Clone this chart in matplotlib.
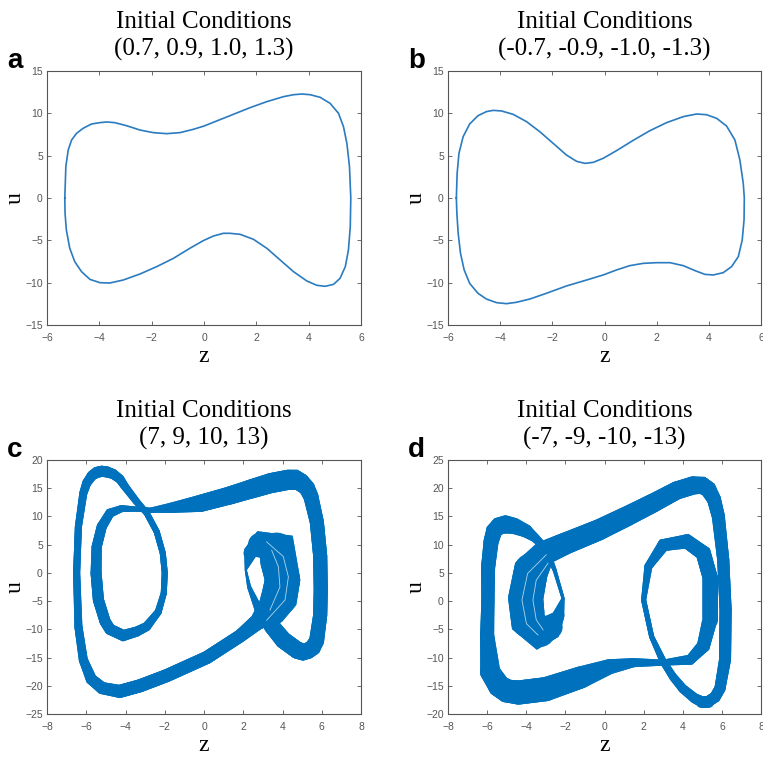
import matplotlib
matplotlib.use("Agg")
import matplotlib.pyplot as plt
import numpy as np
from matplotlib.collections import PolyCollection, LineCollection

plt.rcParams["font.family"] = ["Liberation Sans", "DejaVu Sans"]

# ---- panel a: periodic orbit, ICs (0.7, 0.9, 1.0, 1.3)
a_z = [-5.32, -5.28, -5.19, -5.06, -4.87, -4.62, -4.30, -3.98, -3.72, -3.41, -2.96, -2.45,
       -1.94, -1.43, -0.92, -0.41, 0.0, 0.48, 1.12, 1.76, 2.40, 3.04, 3.42, 3.74, 4.06, 4.44,
       4.82, 5.14, 5.33, 5.46, 5.56, 5.61, 5.59, 5.52, 5.40, 5.20, 4.95, 4.63, 4.31, 3.93,
       3.42, 2.91, 2.40, 1.89, 1.38, 0.99, 0.74, 0.36, -0.03, -0.54, -1.17, -1.81, -2.45,
       -3.09, -3.60, -3.98, -4.36, -4.68, -4.94, -5.13, -5.26, -5.31]
a_u = [0.0, 3.70, 5.67, 6.85, 7.64, 8.23, 8.74, 8.90, 8.98, 8.90, 8.54, 8.03,
       7.72, 7.60, 7.72, 8.11, 8.50, 9.09, 9.88, 10.67, 11.38, 11.97, 12.20, 12.28, 12.20, 11.89,
       11.18, 10.0, 8.43, 6.46, 3.70, 0.0, -3.39, -6.14, -8.11, -9.49, -10.20, -10.43, -10.31, -9.80,
       -8.70, -7.32, -5.94, -4.88, -4.29, -4.17, -4.17, -4.49, -5.04, -5.94, -7.13, -8.11, -8.98,
       -9.69, -10.04, -10.0, -9.61, -8.70, -7.52, -5.94, -3.78, -1.81]

# ---- panel b: periodic orbit, ICs (-0.7, -0.9, -1.0, -1.3)
b_z = [-5.68, -5.65, -5.58, -5.42, -5.17, -4.85, -4.53, -4.27, -3.95, -3.50, -2.99, -2.48,
       -1.97, -1.46, -1.07, -0.75, -0.43, -0.05, 0.46, 1.10, 1.74, 2.38, 3.02, 3.53, 3.91,
       4.30, 4.68, 5.00, 5.19, 5.32, 5.36, 5.35, 5.28, 5.13, 4.87, 4.55, 4.17, 3.85, 3.47,
       3.02, 2.51, 1.99, 1.48, 0.97, 0.46, -0.05, -0.69, -1.46, -2.23, -2.86, -3.38, -3.76,
       -4.14, -4.53, -4.85, -5.17, -5.38, -5.52, -5.61, -5.66]
b_u = [0.0, 2.91, 5.28, 7.24, 8.74, 9.72, 10.20, 10.35, 10.28, 9.88, 9.02, 7.83,
       6.46, 5.08, 4.33, 4.09, 4.21, 4.69, 5.59, 6.81, 7.95, 8.90, 9.61, 9.92, 9.84,
       9.41, 8.50, 6.85, 4.49, 1.73, 0.0, -2.60, -4.96, -6.93, -8.11, -8.82, -9.09, -9.02, -8.58,
       -7.99, -7.64, -7.64, -7.72, -7.99, -8.50, -9.09, -9.69, -10.39, -11.26, -11.93, -12.32, -12.48,
       -12.36, -11.93, -11.26, -10.08, -8.50, -6.54, -4.17, -1.81]

# ---- panel c: chaotic attractor, ICs (7, 9, 10, 13)
# centre of the smeared orbit and its thickness in pixels
c_z = [-5.21, -4.96, -4.62, -4.28, -4.03, -3.43, -2.92, -2.41, -2.10, -2.00, -2.05, -2.33,
       -2.92, -3.43, -4.11, -4.79, -5.04, -5.38, -5.50, -5.47, -5.21, -4.79, -4.19, -3.43,
       -2.75, -1.73, -0.20, 1.30, 2.34, 3.40, 4.30, 4.65, 4.95, 5.25, 5.45, 5.75, 5.92, 5.95,
       5.92, 5.74, 5.55, 5.30, 5.05, 4.75, 4.04, 3.45, 2.75, 2.30, 2.13, 2.34, 2.85, 3.70,
       4.00, 3.83, 3.40, 2.68, 1.83, 0.14, -1.90, -3.26, -4.30, -5.20, -5.75, -6.15, -6.40,
       -6.49, -6.40, -6.15, -5.98, -5.72, -5.47]
c_u = [18.0, 17.9, 17.5, 16.6, 15.3, 12.6, 10.6, 7.3, 3.5, 0.0, -3.6, -6.9,
       -9.5, -10.4, -11.1, -10.0, -8.6, -4.8, 0.0, 4.6, 8.2, 10.6, 11.4, 11.3,
       11.1, 11.5, 12.3, 13.7, 14.8, 15.9, 16.5, 16.5, 16.0, 15.0, 13.5, 9.0, 3.0, -3.0,
       -7.5, -12.0, -13.2, -13.8, -14.0, -13.7, -11.9, -9.4, -6.2, -2.5, 0.5, 3.5, 5.0, 4.05,
       -1.26, -4.5, -6.85, -8.8, -11.2, -15.0, -18.2, -20.0, -21.0, -20.4, -18.8, -15.4, -9.5,
       0.0, 8.2, 14.1, 15.9, 17.2, 17.8]
c_w = [11, 11, 10, 9, 8, 7, 6, 6, 6, 6, 6, 7,
       9, 10, 11, 11, 11, 11, 11, 10, 10, 9, 7, 5,
       5, 10, 17, 18, 19, 20, 20, 20, 18, 16, 15, 14, 14, 14,
       14, 15, 16, 16, 17, 17, 17, 16, 8, 4, 2, 13, 24, 37,
       35, 36, 30, 16, 13, 13, 13, 13, 13, 12, 11, 9, 8,
       7, 7, 8, 9, 10, 11]
c_streak1_z = [3.19, 4.04, 4.30, 4.13, 3.19]
c_streak1_u = [5.5, 2.9, -0.7, -4.8, -8.4]
c_streak2_z = [3.45, 3.79, 3.87, 3.36]
c_streak2_u = [4.0, 1.1, -2.5, -6.6]

# ---- panel d: chaotic attractor, ICs (-7, -9, -10, -13)
d_z = [-5.05, -4.60, -4.00, -3.55, -3.00, -2.55, -2.12, -2.35, -2.75, -3.30, -3.90, -4.03,
       -3.75, -3.05, -2.00, -0.30, 1.13, 2.50, 3.69, 4.54, 5.00, 5.31, 5.60, 5.82, 6.07, 6.19,
       6.16, 5.90, 5.65, 5.30, 4.95, 4.60, 4.00, 3.50, 3.00, 2.41, 2.00, 2.24, 3.00, 4.20,
       5.05, 5.39, 5.39, 5.05, 4.37, 3.00, 1.50, 0.28, -1.20, -3.00, -4.40, -5.00, -5.40,
       -5.85, -6.00, -5.96, -5.95, -5.80, -5.65, -5.40]
d_u = [13.6, 13.3, 12.4, 11.2, 9.3, 5.5, 0.5, -2.5, -4.6, -5.4, -3.5, 0.5,
       5.5, 8.6, 10.2, 12.6, 15.0, 17.4, 19.6, 20.5, 20.5, 19.8, 18.0, 15.0, 7.3, -1.6,
       -10.4, -15.5, -17.0, -17.8, -17.8, -17.2, -15.5, -13.4, -10.7, -6.3, 0.2, 6.1, 9.9, 10.6,
       8.5, 4.3, -3.3, -8.0, -10.4, -10.9, -10.9, -11.6, -13.5, -15.6, -16.2, -15.9, -15.0,
       -12.5, -6.0, 0.2, 6.0, 10.5, 12.4, 13.3]
d_w = [18, 16, 13, 9, 7, 4, 3, 12, 24, 31, 34, 35,
       34, 24, 22, 21, 20, 19, 18, 18, 17, 16, 14, 13, 12, 12,
       12, 11, 11, 11, 11, 10, 9, 8, 7, 5, 5, 8, 12, 14,
       15, 15, 15, 13, 10, 6, 9, 15, 22, 24, 24, 23, 22,
       20, 14, 13, 14, 15, 16, 17]
d_streak1_z = [-2.98, -3.93, -4.22, -3.99, -3.40]
d_streak1_u = [8.2, 4.9, 0.2, -4.0, -6.0]
d_streak2_z = [-2.89, -3.49, -3.66, -3.49, -3.14]
d_streak2_u = [6.7, 3.7, 0.2, -3.3, -5.1]

titles = ["Initial Conditions\n(0.7, 0.9, 1.0, 1.3)",
          "Initial Conditions\n(-0.7, -0.9, -1.0, -1.3)",
          "Initial Conditions\n(7, 9, 10, 13)",
          "Initial Conditions\n(-7, -9, -10, -13)"]
letters = ["a", "b", "c", "d"]

BLUE = "#0072BD"
LINE = "#2a7bbf"
GREY = "#555555"
SERIF = "Liberation Serif"


def closed(v):
    return np.append(np.asarray(v, float), v[0])


def draw_band(ax, z, u, w):
    # thick closed band drawn two ways on top of each other:
    # a varying-width centre line (round caps) and the outline pieces
    # obtained by offsetting the centre line by +-w/2 pixels
    w = np.asarray(w, float)
    pts = np.column_stack([closed(z), closed(u)])
    segs = np.stack([pts[:-1], pts[1:]], axis=1)
    ww = closed(w)
    lw = np.minimum(ww[:-1], ww[1:]) * 0.72
    ax.add_collection(LineCollection(segs, linewidths=lw, colors=BLUE,
                                     capstyle="round", joinstyle="round"))

    tr = ax.transData
    P = tr.transform(np.column_stack([z, u]))
    d_next = np.roll(P, -1, axis=0) - P
    d_prev = P - np.roll(P, 1, axis=0)
    n_next = np.column_stack([-d_next[:, 1], d_next[:, 0]])
    n_next /= np.linalg.norm(n_next, axis=1, keepdims=True)
    n_prev = np.column_stack([-d_prev[:, 1], d_prev[:, 0]])
    n_prev /= np.linalg.norm(n_prev, axis=1, keepdims=True)
    nv = n_next + n_prev
    nv /= np.linalg.norm(nv, axis=1, keepdims=True)
    scale = 1.0 / np.clip((nv * n_next).sum(axis=1), 0.6, 1.0)
    off = nv * (0.5 * w * scale)[:, None]
    L = tr.inverted().transform(P + off)
    R = tr.inverted().transform(P - off)
    m = len(P)
    tris = []
    for i in range(m):
        j = (i + 1) % m
        q = [L[i], L[j], R[j], R[i]]
        for k in range(4):
            tris.append([q[(k + 1) % 4], q[(k + 2) % 4], q[(k + 3) % 4]])
    ax.add_collection(PolyCollection(tris, facecolors=BLUE, edgecolors="none"))


def style(ax, xlim, ylim, yticks, title):
    ax.set_xlim(*xlim)
    ax.set_ylim(*ylim)
    ax.set_xticks(np.arange(xlim[0], xlim[1] + 1, 2))
    ax.set_yticks(yticks)
    ax.tick_params(direction="in", top=True, right=True, length=3, width=0.6,
                   colors=GREY, labelsize=7.5)
    ax.tick_params(axis="x", pad=6)
    ax.tick_params(axis="y", pad=3)
    for sp in ax.spines.values():
        sp.set_color(GREY)
        sp.set_linewidth(0.8)
    ax.set_xlabel("z", fontfamily=SERIF, fontsize=17, labelpad=2)
    ax.set_ylabel("u", fontfamily=SERIF, fontsize=17, labelpad=0)
    ax.set_title(title, fontfamily=SERIF, fontsize=18, pad=11, linespacing=1.3)


fig = plt.figure(figsize=(7.63, 7.57), dpi=100)
W, H = 763.0, 757.0
boxes = [(47, 71, 314, 254), (448, 71, 313, 254), (47, 460, 314, 254), (448, 460, 313, 254)]
axs = [fig.add_axes([x / W, 1 - (y + h) / H, w / W, h / H]) for x, y, w, h in boxes]

style(axs[0], (-6, 6), (-15, 15), np.arange(-15, 16, 5), titles[0])
style(axs[1], (-6, 6), (-15, 15), np.arange(-15, 16, 5), titles[1])
style(axs[2], (-8, 8), (-25, 20), np.arange(-25, 21, 5), titles[2])
style(axs[3], (-8, 8), (-20, 25), np.arange(-20, 26, 5), titles[3])

axs[0].plot(closed(a_z), closed(a_u), color=LINE, lw=1.2)
axs[1].plot(closed(b_z), closed(b_u), color=LINE, lw=1.2)

draw_band(axs[2], c_z, c_u, c_w)
draw_band(axs[3], d_z, d_u, d_w)
for ax, sz, su in [(axs[2], c_streak1_z, c_streak1_u), (axs[2], c_streak2_z, c_streak2_u),
                   (axs[3], d_streak1_z, d_streak1_u), (axs[3], d_streak2_z, d_streak2_u)]:
    ax.plot(sz, su, color="white", lw=0.6, alpha=0.7)

for (x, y, w, h), lab in zip(boxes, letters):
    fig.text((x - 40) / W, 1 - (y - 3) / H, lab, fontfamily="Liberation Sans",
             fontweight="bold", fontsize=20, ha="left", va="baseline")

fig.savefig("out.png", dpi=100)
